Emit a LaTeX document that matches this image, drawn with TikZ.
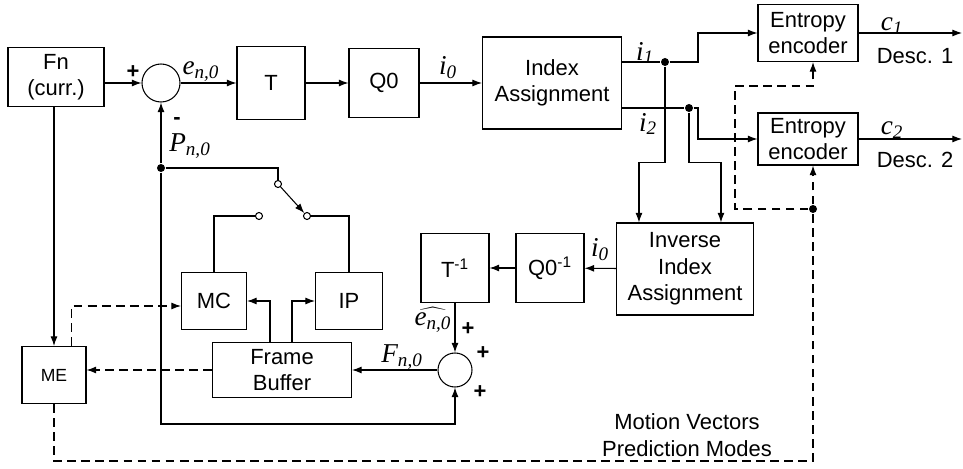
\documentclass[tikz,border=0pt]{standalone}
\usepackage{fontspec}
\setmainfont{Liberation Sans}
\newfontfamily\tms{Liberation Serif}
\usetikzlibrary{arrows.meta,calc}
\newcommand{\sig}[2]{{\tms\itshape #1\textsubscript{#2}}}

\begin{document}
\begin{tikzpicture}[x=0.02cm,y=-0.02cm,line width=0.6pt,
    >={Latex[length=5.5pt,width=4pt]},
    font=\fontsize{12.5}{15}\selectfont,
    blk/.style 2 args={draw,align=center,inner sep=0pt,minimum width=#1*0.02cm,minimum height=#2*0.02cm},
    sumc/.style={draw,circle,inner sep=0pt,minimum size=#1*0.02cm},
    dot/.style={circle,fill,inner sep=0pt,minimum size=8*0.02cm},
    term/.style={circle,draw,fill=white,inner sep=0pt,minimum size=7*0.02cm},
    lbl/.style={inner sep=0pt,font=\fontsize{15.5}{17}\selectfont},
    sgn/.style={inner sep=0pt,font=\fontsize{12.5}{15}\selectfont\bfseries},
    dsh/.style={dash pattern=on 5pt off 3pt}]
    \useasboundingbox (0,0) rectangle (963,469);

    \node[blk={96}{59}] (fn) at (56,77) {Fn\\(curr.)};
    \node[sumc=38] (s1) at (161,83) {};
    \node[blk={68}{73}] (t) at (271,83) {T};
    \node[blk={70}{69}] (q0) at (384,83) {Q0};
    \node[blk={139}{92}] (ia) at (552,83) {Index\\Assignment};
    \node[blk={100}{57}] (ee1) at (808,33) {Entropy\\encoder};
    \node[blk={100}{52}] (ee2) at (808,139) {Entropy\\encoder};

    \node[blk={137}{92}] (iia) at (685,269) {Inverse\\Index\\Assignment};
    \node[blk={68}{69}] (q0inv) at (550,268) {Q0\textsuperscript{-1}};
    \node[blk={68}{69}] (tinv) at (455,268) {T\textsuperscript{-1}};
    \node[sumc=34] (s2) at (455,370) {};
    \node[blk={139}{55}] (fb) at (282,370) {Frame\\Buffer};
    \node[blk={65}{57}] (mc) at (214,301) {MC};
    \node[blk={67}{57}] (ip) at (349,301) {IP};
    \node[blk={64}{57},font=\fontsize{10}{12}\selectfont] (me) at (54,375) {ME};

    \node[dot] (j) at (161,168) {};
    \node[dot] (d1) at (665,62) {};
    \node[dot] (d2) at (689,108) {};
    \node[dot] (d3) at (813,209) {};
    \node[term] (sw0) at (278,184) {};
    \node[term] (swl) at (259,216) {};
    \node[term] (swr) at (307,216) {};
    \coordinate (k1) at (698,62);
    \coordinate (k2) at (698,108);
    \coordinate (o1) at (962,33);
    \coordinate (o2) at (962,139);
    \coordinate (lp) at (161,424);
    \coordinate (mv) at (813,461);
    \coordinate (c1) at (735,86);

    \draw[->] (fn.east |- s1) -- (s1);
    \draw[->] (s1) -- (t);
    \draw[->] (t) -- (q0);
    \draw[->] (q0) -- (ia);
    \draw (ia.east |- d1) -- (d1);
    \draw[->] (d1) -- (k1) |- (ee1);
    \draw (ia.east |- d2) -- (d2);
    \draw[->] (d2) -- (k2) |- (ee2);
    \draw[->] (ee1) -- (o1);
    \draw[->] (ee2) -- (o2);
    \draw[->] (d1) |- ($(iia.north west)+(23,-60)$) -- ($(iia.north west)+(23,0)$);
    \draw[->] (d2) |- ($(iia.north west)+(105,-60)$) -- ($(iia.north west)+(105,0)$);

    \draw[->] (iia) -- (q0inv);
    \draw[->] (q0inv) -- (tinv);
    \draw[->] (tinv) -- (s2);
    \draw[->] (s2) -- (s2 -| fb.east);
    \draw[->] ($(fb.north west)+(58,0)$) |- (mc.east);
    \draw[->] ($(fb.north west)+(80,0)$) |- (ip.west);
    \draw[->] (fn.south -| me.north) -- (me.north);

    \draw[->] (j) -- (s1);
    \draw (j) -| (sw0);
    \draw[->] (sw0) -- (swr);
    \draw (swl) -| (mc.north);
    \draw (swr) -| (ip.north);
    \draw[->] (j) -- (lp) -| (s2);

    \draw[dsh,->] (fb.west) -- (fb.west -| me.east);
    \draw[dsh,->] ($(me.north west)+(50,0)$) |- ($(mc.west)+(0,5)$);
    \draw[dsh] (me.south) |- (mv) -- (d3);
    \draw[dsh,->] (d3) -- (d3 |- ee2.south);
    \draw[dsh,->] (d3) -| (c1) -| (d3 |- ee1.south);

    \node[sgn] (p1) at (133,72) {+};
    \node[sgn] (m1) at (177,121) {-};
    \node[lbl] (en) at (201,72) {\sig{e}{n,0}};
    \node[lbl] (pn) at (190,146) {\sig{P}{n,0}};
    \node[lbl] (i0a) at (448,68) {\sig{i}{0}};
    \node[lbl] (i1) at (645,53) {\sig{i}{1}};
    \node[lbl] (i2) at (648,124) {\sig{i}{2}};
    \node[lbl] (c1l) at (892,26) {\sig{c}{1}};
    \node[lbl] (c2l) at (892,130) {\sig{c}{2}};
    \node (ds1) at (915,56) {Desc. 1};
    \node (ds2) at (915,160) {Desc. 2};
    \node[lbl] (i0b) at (600,250) {\sig{i}{0}};
    \node[lbl] (eh) at (433,320) {$\widehat{\hbox{\sig{e}{n,0}}}$};
    \node[lbl] (fn0) at (402,357) {\sig{F}{n,0}};
    \node[sgn] (p2) at (468,329) {+};
    \node[sgn] (p3) at (483,353) {+};
    \node[sgn] (p4) at (480,392) {+};
    \node[align=center] (mvl) at (687,435) {Motion Vectors\\Prediction Modes};
\end{tikzpicture}
\end{document}
